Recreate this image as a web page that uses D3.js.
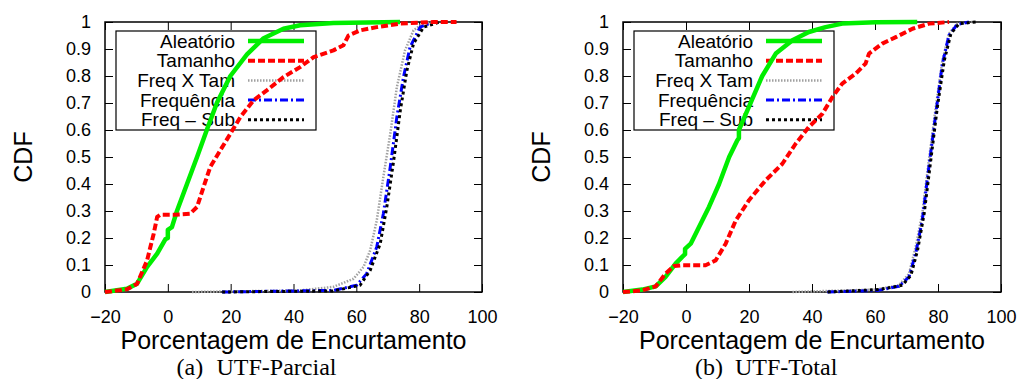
<!DOCTYPE html>
<html>
<head>
<meta charset="utf-8">
<script src="https://cdn.jsdelivr.net/npm/d3@7"></script>
<style>
  body { margin: 0; background: #fff; }
  svg { display: block; }
</style>
</head>
<body>
<div id="chart"></div>
<script>
// Axis ticks
const xTicks = [-20, 0, 20, 40, 60, 80, 100];
const yTicks = [0, 0.1, 0.2, 0.3, 0.4, 0.5, 0.6, 0.7, 0.8, 0.9, 1];

const seriesNames = ["Aleatório", "Tamanho", "Freq X Tam", "Frequência", "Freq – Sub"];

// (a) UTF-Parcial  -- [x, cdf]
const parcialAleatorio = [[-20,0],[-13,0.012],[-9.8,0.031],[-6.6,0.093],[-3.4,0.142],[-0.8,0.195],[0,0.2],[0,0.23],[1.3,0.24],[2.9,0.30],[6.1,0.40],[9.3,0.50],[12.4,0.60],[15.6,0.70],[19.9,0.80],[25.2,0.88],[30.5,0.94],[36.8,0.975],[42.1,0.988],[52.7,0.996],[73.9,1]];
const parcialTamanho = [[-20,0],[-13,0.01],[-9.8,0.03],[-6.6,0.117],[-4.5,0.216],[-3.4,0.278],[-2.4,0.286],[1.9,0.286],[7.1,0.29],[9.3,0.315],[11.4,0.39],[13.5,0.463],[16.7,0.525],[19.9,0.586],[23.1,0.648],[27.3,0.71],[31.5,0.747],[36.8,0.796],[42.1,0.833],[46.4,0.87],[52.7,0.895],[55.9,0.914],[57.5,0.95],[61.2,0.969],[66.5,0.981],[73.9,0.994],[84.5,1],[91.9,1]];
const parcialFreqTam = [[7.7,0],[42.2,0.006],[52.7,0.019],[59.1,0.049],[62.3,0.093],[64.4,0.154],[66.5,0.265],[68.6,0.426],[70.8,0.586],[72.9,0.759],[75.5,0.895],[78.2,0.969],[81.4,0.996],[85.6,1]];
const parcialFrequencia = [[17.3,0],[52.7,0.006],[60.1,0.025],[63.3,0.068],[66.5,0.167],[68.6,0.29],[70.8,0.463],[72.9,0.648],[75.0,0.796],[77.1,0.907],[80.3,0.981],[84.5,1]];
const parcialFreqSub = [[17.3,0],[52.7,0.004],[61.2,0.025],[64.4,0.08],[67.6,0.179],[69.7,0.315],[71.9,0.488],[74.0,0.673],[76.1,0.821],[78.2,0.92],[81.4,0.981],[86.6,1]];

// (b) UTF-Total
const totalAleatorio = [[-20,0],[-13.9,0.009],[-9.6,0.021],[-6.5,0.056],[-3.3,0.105],[-1.2,0.13],[-0.3,0.14],[-0.3,0.16],[1.5,0.179],[4.1,0.24],[7.3,0.315],[10.5,0.40],[13.7,0.50],[16.3,0.562],[16.8,0.57],[16.8,0.60],[17.9,0.63],[21.1,0.716],[24.2,0.80],[28.5,0.883],[33.8,0.932],[39.0,0.963],[44.3,0.981],[49.6,0.994],[60.2,0.999],[73.4,1]];
const totalTamanho = [[-20,0],[-13.9,0.006],[-9.6,0.021],[-6.5,0.068],[-3.8,0.096],[-1.2,0.099],[6.2,0.099],[9.4,0.117],[12.6,0.179],[15.8,0.265],[20.0,0.34],[25.3,0.414],[30.6,0.475],[34.8,0.549],[39.0,0.611],[43.3,0.66],[46.5,0.722],[49.6,0.772],[53.9,0.809],[57.0,0.846],[58.1,0.883],[62.3,0.92],[66.6,0.944],[71.9,0.975],[77.2,0.994],[83.5,1]];
const totalFreqTam = [[33.8,0],[60.2,0.009],[67.6,0.025],[70.8,0.068],[72.9,0.167],[75.0,0.29],[77.1,0.488],[79.3,0.685],[81.4,0.858],[83.5,0.957],[86.1,0.994],[90.9,1]];
const totalFrequencia = [[44.9,0],[61.0,0.006],[67.6,0.021],[70.8,0.056],[72.9,0.142],[75.0,0.265],[77.1,0.463],[79.3,0.66],[81.4,0.846],[83.5,0.951],[86.1,0.991],[89.8,1]];
const totalFreqSub = [[45.0,0],[61.3,0.009],[68.7,0.025],[71.4,0.062],[73.5,0.154],[75.6,0.29],[77.7,0.488],[79.8,0.685],[82.0,0.858],[84.1,0.957],[86.7,0.994],[92.0,1]];

const styles = [
  { color: "#00ee00", width: 4.5, dash: null },
  { color: "#ff0000", width: 4, dash: "7,3" },
  { color: "#a0a0a0", width: 2.5, dash: "1.5,1.5" },
  { color: "#0000ff", width: 3, dash: "8,3,2,3" },
  { color: "#000000", width: 3, dash: "3,3" }
];

const panels = [
  { left: 105, right: 482, tag: "(a)", caption: "UTF-Parcial", series: [parcialAleatorio, parcialTamanho, parcialFreqTam, parcialFrequencia, parcialFreqSub] },
  { left: 623, right: 1001, tag: "(b)", caption: "UTF-Total", series: [totalAleatorio, totalTamanho, totalFreqTam, totalFrequencia, totalFreqSub] }
];

const W = 1019, H = 379, plotTop = 22, plotBottom = 292;
const sans = "'Liberation Sans', Arial, sans-serif";
const serif = "'Liberation Serif', 'Times New Roman', serif";

const svg = d3.select("#chart").append("svg")
  .attr("width", W).attr("height", H);

panels.forEach(p => {
  const x = d3.scaleLinear().domain([-20, 100]).range([p.left, p.right]);
  const y = d3.scaleLinear().domain([0, 1]).range([plotBottom, plotTop]);
  const g = svg.append("g");

  // inner ticks on all four sides
  const tl = 8;
  g.append("g").attr("transform", `translate(0,${plotBottom})`)
    .call(d3.axisBottom(x).tickValues(xTicks).tickSizeInner(-tl).tickSizeOuter(0)
      .tickFormat(d => d < 0 ? "\u2212" + Math.abs(d) : d).tickPadding(18))
    .call(a => a.select(".domain").remove())
    .call(a => a.selectAll("text").style("font-size", "18px").style("font-family", sans).attr("fill", "#000"));
  g.append("g").attr("transform", `translate(0,${plotTop})`)
    .call(d3.axisTop(x).tickValues(xTicks).tickSizeInner(-tl).tickSizeOuter(0).tickFormat(""))
    .call(a => a.select(".domain").remove());
  g.append("g").attr("transform", `translate(${p.left},0)`)
    .call(d3.axisLeft(y).tickValues(yTicks).tickSizeInner(-tl).tickSizeOuter(0)
      .tickFormat(d => d === 0 || d === 1 ? d3.format("d")(d) : d3.format(".1f")(d)).tickPadding(14))
    .call(a => a.select(".domain").remove())
    .call(a => a.selectAll("text").style("font-size", "18px").style("font-family", sans).attr("fill", "#000"));
  g.append("g").attr("transform", `translate(${p.right},0)`)
    .call(d3.axisRight(y).tickValues(yTicks).tickSizeInner(-tl).tickSizeOuter(0).tickFormat(""))
    .call(a => a.select(".domain").remove());

  g.append("rect")
    .attr("x", p.left).attr("y", plotTop)
    .attr("width", p.right - p.left).attr("height", plotBottom - plotTop)
    .attr("fill", "none").attr("stroke", "#000").attr("stroke-width", 1.5);

  // legend (transparent box, curves drawn over it)
  const lx0 = p.left + 11, lx1 = p.left + 211;
  g.append("rect").attr("x", lx0).attr("y", 31).attr("width", lx1 - lx0).attr("height", 99)
    .attr("fill", "none").attr("stroke", "#000").attr("stroke-width", 1.2);
  seriesNames.forEach((name, i) => {
    const ry = 41 + i * 19.7;
    g.append("text").attr("x", p.left + 130).attr("y", ry).attr("dy", "0.35em")
      .attr("text-anchor", "end").style("font-size", "19px").style("font-family", sans).text(name);
    const s = styles[i];
    g.append("line").attr("x1", p.left + 143).attr("x2", p.left + 199)
      .attr("y1", ry).attr("y2", ry)
      .attr("stroke", s.color).attr("stroke-width", s.width)
      .attr("stroke-dasharray", s.dash);
  });

  const line = d3.line().x(d => x(d[0])).y(d => y(d[1]));
  // draw order: gray, blue, black, then green and red on top
  [2, 3, 4, 0, 1].forEach(i => {
    const s = styles[i];
    g.append("path").datum(p.series[i])
      .attr("d", line)
      .attr("fill", "none")
      .attr("stroke", s.color).attr("stroke-width", s.width)
      .attr("stroke-dasharray", s.dash)
      .attr("stroke-linejoin", "round");
  });

  const cx = (p.left + p.right) / 2;
  g.append("text").attr("x", cx).attr("y", 349).attr("text-anchor", "middle")
    .style("font-size", "25px").style("font-family", sans).text("Porcentagem de Encurtamento");
  g.append("text").attr("transform", `translate(${p.left - 82},${(plotTop + plotBottom) / 2}) rotate(-90)`)
    .attr("dy", "0.35em").attr("text-anchor", "middle")
    .style("font-size", "25px").style("font-family", sans).text("CDF");
  // caption: tag and title, left edges matched to the reference
  g.append("text").attr("x", cx - 117).attr("y", 375)
    .style("font-size", "24px").style("font-family", serif).text(p.tag);
  g.append("text").attr("x", cx - 77).attr("y", 375)
    .style("font-size", "24px").style("font-family", serif).text(p.caption);
});
</script>
</body>
</html>
